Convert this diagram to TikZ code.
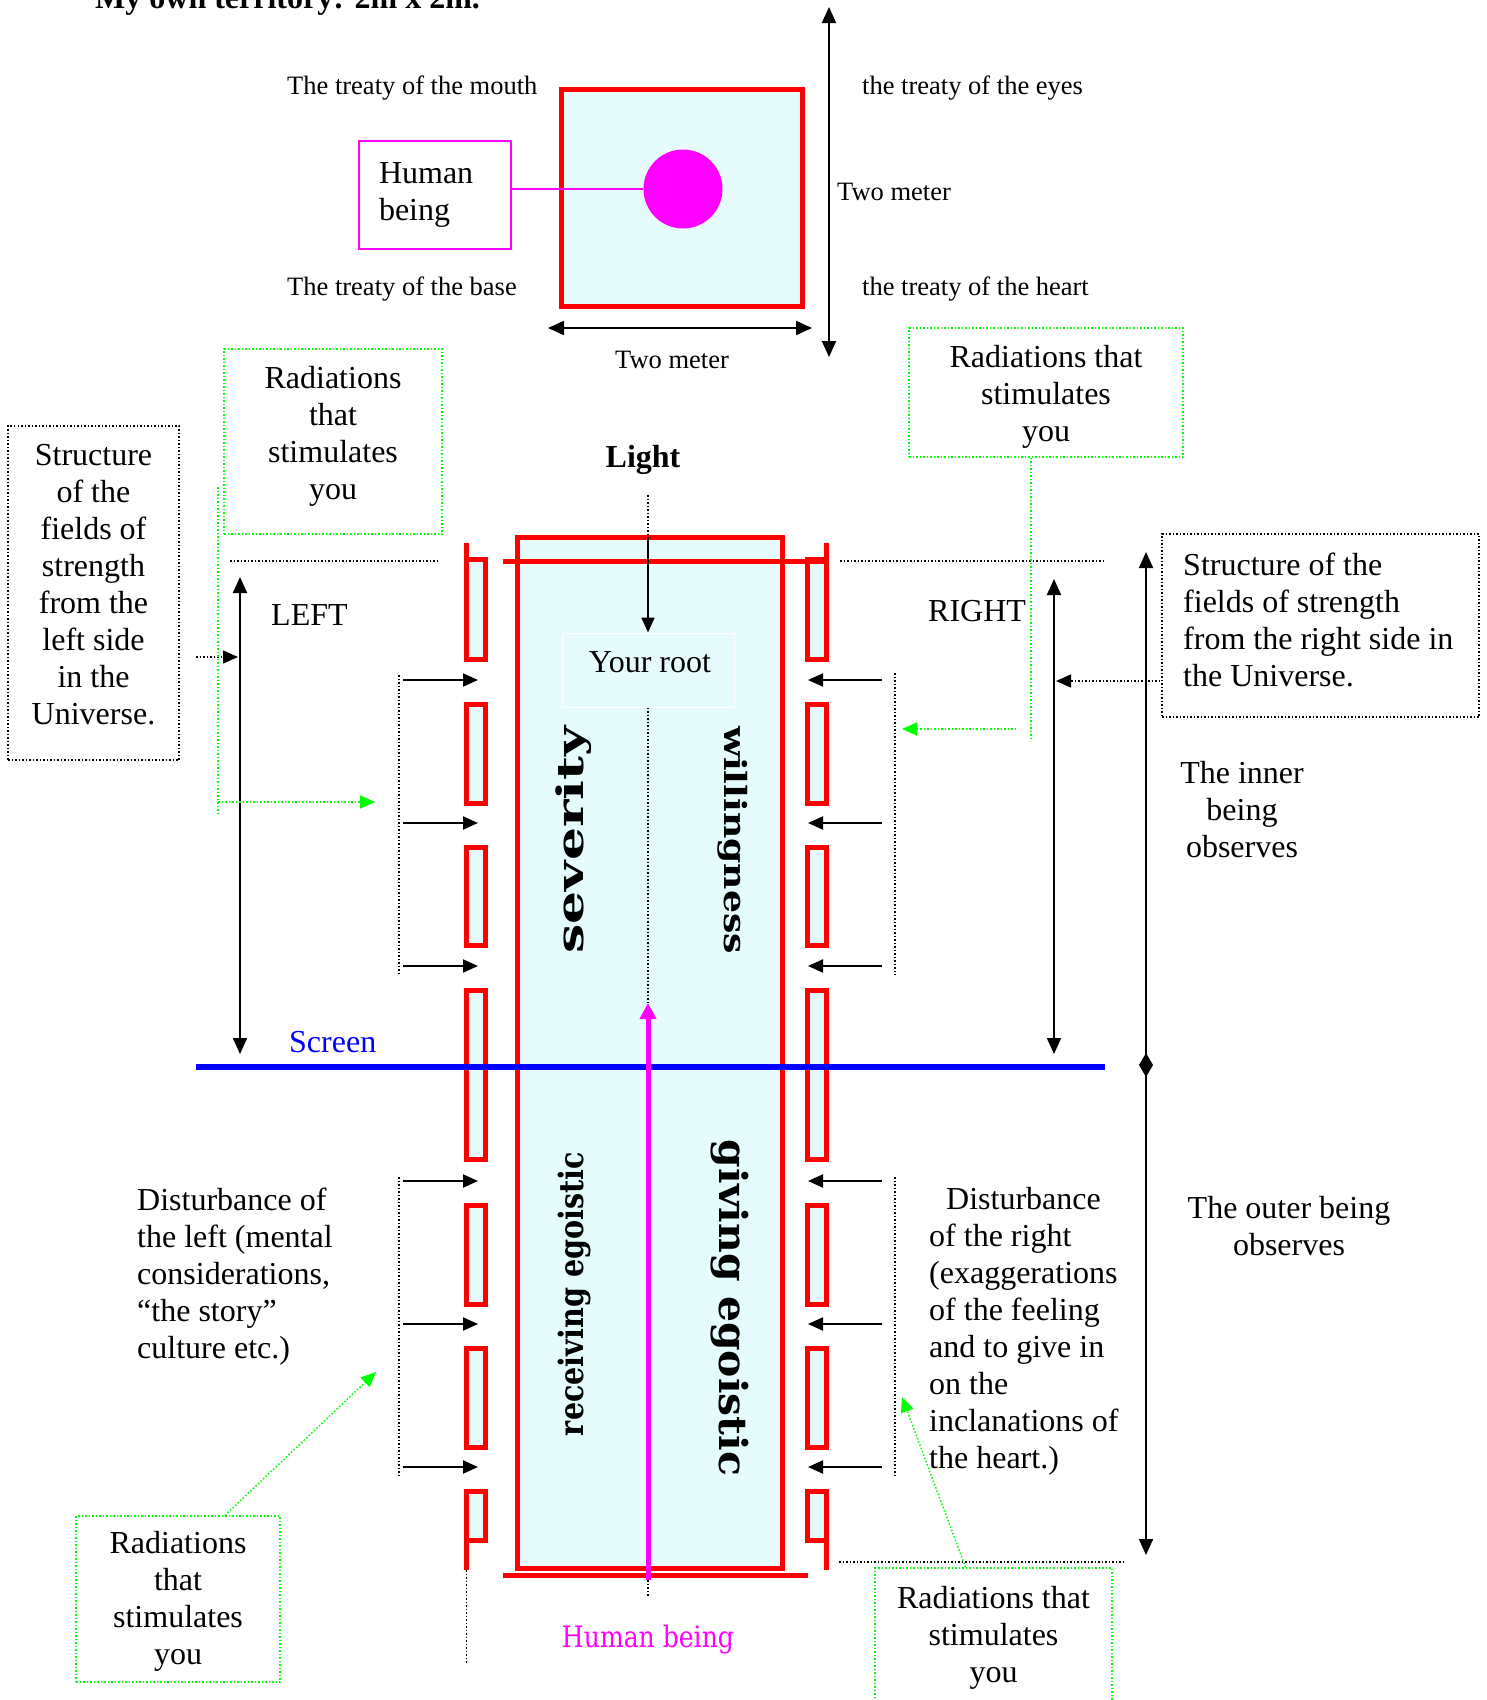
\documentclass[tikz,border=0pt]{standalone}
\usepackage{fontspec}
\usepackage{graphicx}
\usepackage{xcolor}
\setmainfont{Liberation Serif}
\newfontfamily\wideserif{DejaVu Serif}
\usetikzlibrary{arrows.meta}

\definecolor{wallred}{HTML}{FF0000}
\definecolor{beingpink}{HTML}{FF00FF}
\definecolor{screenblue}{HTML}{0000FF}
\definecolor{raygreen}{HTML}{00FF00}
\definecolor{rootcyan}{HTML}{E6FCFC}

\tikzset{
  bigtext/.style={font=\fontsize{32}{37}\selectfont, inner sep=0pt},
  smalltext/.style={font=\fontsize{26.5}{30}\selectfont, inner sep=0pt},
  wall/.style={draw=wallred, line width=5pt, fill=rootcyan},
  wallline/.style={draw=wallred, line width=5pt},
  push/.style={line width=2pt, -{Triangle[length=15pt,width=13pt]}},
  span/.style={line width=2pt, {Triangle[length=16pt,width=14pt]}-{Triangle[length=16pt,width=14pt]}},
  fieldline/.style={line width=1.5pt, dotted},
  rayline/.style={draw=raygreen, line width=1.5pt, dotted},
  ray/.style={rayline, -{Triangle[length=15pt,width=13pt]}},
  fieldbox/.style={draw, line width=1.5pt, dotted, inner sep=0pt},
  raybox/.style={draw=raygreen, line width=1.5pt, dotted, inner sep=0pt},
}

\begin{document}
\begin{tikzpicture}[x=1pt, y=-1pt]
  \useasboundingbox (0,0) rectangle (1486,1700);

  % Title, cut by the page edge
  \node[font=\fontsize{32}{37}\selectfont\bfseries, inner sep=0pt, anchor=base west] (title) at (95,8) {My own territory: 2m x 2m.};

  % Territory of two by two meter
  \node[wall, minimum width=241pt, minimum height=217pt, inner sep=0pt] (territory) at (682,198) {};
  \node[circle, fill=beingpink, minimum size=79pt, inner sep=0pt] (self) at (683,189) {};
  \node[bigtext, draw=beingpink, line width=2pt, minimum height=108pt, text width=112pt, inner xsep=20pt, align=left] (humanbox) at (435,195) {Human\\being};
  \draw[beingpink, line width=1.5pt] (humanbox.east |- self.west) -- (self.west);

  \node[smalltext, anchor=west] (mouth) at (287,88) {The treaty of the mouth};
  \node[smalltext, anchor=west] (base) at (287,289) {The treaty of the base};
  \node[smalltext, anchor=west] (eyes) at (862,88) {the treaty of the eyes};
  \node[smalltext, anchor=west] (heart) at (862,289) {the treaty of the heart};
  \node[smalltext, anchor=west] (heightlbl) at (837,192) {Two meter};
  \node[smalltext] (widthlbl) at (672,360) {Two meter};
  \draw[span] (829,7) -- (829,357);
  \draw[span] (548,328) -- (812,328);

  % The column of the human being
  \node[wall, minimum width=265pt, minimum height=1031pt, inner sep=0pt] (column) at (650,1053) {};

  % left wall segments
  \draw[wall] (466.5,559.5) rectangle (485.5,659.5);
  \draw[wall] (466.5,704.5) rectangle (485.5,803.5);
  \draw[wall] (466.5,847.5) rectangle (485.5,945.5);
  \draw[wall] (466.5,990.5) rectangle (485.5,1159.5);
  \draw[wall] (466.5,1205.5) rectangle (485.5,1304.5);
  \draw[wall] (466.5,1348.5) rectangle (485.5,1447.5);
  \draw[wall] (466.5,1491.5) rectangle (485.5,1540.5);
  % right wall segments
  \draw[wall] (807.5,559.5) rectangle (826.5,659.5);
  \draw[wall] (807.5,704.5) rectangle (826.5,803.5);
  \draw[wall] (807.5,847.5) rectangle (826.5,945.5);
  \draw[wall] (807.5,990.5) rectangle (826.5,1159.5);
  \draw[wall] (807.5,1205.5) rectangle (826.5,1304.5);
  \draw[wall] (807.5,1348.5) rectangle (826.5,1447.5);
  \draw[wall] (807.5,1491.5) rectangle (826.5,1540.5);

  \draw[wallline] (503,561.5) -- (827,561.5);
  \draw[wallline] (503,1575) -- (808,1575);
  \draw[wallline] (466.5,543) -- (466.5,560);
  \draw[wallline] (826.5,543) -- (826.5,560);
  \draw[wallline] (466.5,1540) -- (466.5,1570);
  \draw[wallline] (826.5,1540) -- (826.5,1570);
  \draw[fieldline] (466.5,1570) -- (466.5,1663);

  % Light down to the root
  \node[font=\fontsize{32}{37}\selectfont\bfseries, inner sep=0pt] (light) at (643,460) {Light};
  \node[draw=white, line width=1pt, fill=rootcyan, minimum width=172pt, minimum height=74pt, inner sep=0pt] (root) at (648,670) {};
  \node[bigtext] (rootlbl) at (650,662) {Your root};
  \draw[fieldline] (648,495) -- (648,537);
  \draw[push] (648,537) -- (root.north);
  \draw[fieldline] (root.south) -- (648,1005);

  % Screen
  \draw[screenblue, line width=6pt] (196,1067) -- (1105,1067);
  \node[bigtext, text=screenblue, anchor=west] (screen) at (289,1042) {Screen};

  % Human being rising
  \draw[beingpink, line width=5pt, -{Triangle[length=16pt,width=16pt]}] (648,1580) -- (648,1003);
  \draw[fieldline] (648,1580) -- (648,1597);
  \node[inner sep=0pt, text=beingpink] (human) at (648,1640) {\resizebox*{172pt}{29pt}{\wideserif Human being}};

  % Qualities in the column
  \node[rotate=90, inner sep=0pt] (severity) at (574,840) {\resizebox*{227pt}{36pt}{\wideserif\bfseries severity}};
  \node[rotate=-90, inner sep=0pt] (willingness) at (733,840) {\resizebox*{228pt}{30pt}{\wideserif\bfseries willingness}};
  \node[rotate=90, inner sep=0pt] (receiving) at (574,1294) {\resizebox*{284pt}{33pt}{\wideserif\bfseries receiving egoistic}};
  \node[rotate=-90, inner sep=0pt] (giving) at (730,1308) {\resizebox*{336pt}{38pt}{\wideserif\bfseries giving egoistic}};

  % Pressure from the left
  \draw[push] (403,680) -- (478,680);
  \draw[push] (403,823) -- (478,823);
  \draw[push] (403,966) -- (478,966);
  \draw[push] (403,1181) -- (478,1181);
  \draw[push] (403,1324) -- (478,1324);
  \draw[push] (403,1467) -- (478,1467);
  \draw[fieldline] (399,675) -- (399,976);
  \draw[fieldline] (399,1177) -- (399,1478);

  % Pressure from the right
  \draw[push] (882,680) -- (808,680);
  \draw[push] (882,823) -- (808,823);
  \draw[push] (882,966) -- (808,966);
  \draw[push] (882,1181) -- (808,1181);
  \draw[push] (882,1324) -- (808,1324);
  \draw[push] (882,1467) -- (808,1467);
  \draw[fieldline] (895,673) -- (895,975);
  \draw[fieldline] (895,1177) -- (895,1478);

  % Field limits
  \draw[fieldline] (230,561) -- (437,561);
  \draw[fieldline] (840,561) -- (1105,561);
  \draw[fieldline] (839,1562) -- (1123,1562);

  \draw[span] (240,577) -- (240,1054);
  \node[bigtext, anchor=west] (leftlbl) at (271,615) {LEFT};
  \draw[span] (1054,579) -- (1054,1054);
  \node[bigtext, anchor=west] (rightlbl) at (928,611) {RIGHT};
  \draw[span] (1146,552) -- (1146,1555);
  \fill (1146,1053) -- (1153,1065) -- (1146,1077) -- (1139,1065) -- cycle;

  % Structure of the fields
  \node[fieldbox, minimum width=171pt, minimum height=334pt] (fieldsleft) at (93.5,593) {};
  \node[bigtext, align=center] (fieldslefttxt) at (93.5,585) {Structure\\of the\\fields of\\strength\\from the\\left side\\in the\\Universe.};
  \node[fieldbox, minimum width=317pt, minimum height=183pt] (fieldsright) at (1320.5,625.5) {};
  \node[bigtext, align=left, anchor=west] (fieldsrighttxt) at (1183,620) {Structure of the\\fields of strength\\from the right side in\\the Universe.};
  \draw[fieldline, -{Triangle[length=15pt,width=13pt]}] (196,657) -- (238,657);
  \draw[fieldline, -{Triangle[length=15pt,width=13pt]}] (1160,681) -- (1056,681);

  % Radiations
  \node[raybox, minimum width=218pt, minimum height=185pt] (raysTL) at (333,441.5) {};
  \node[bigtext, align=center] (raysTLtxt) at (333,436) {Radiations\\that\\stimulates\\you};
  \node[raybox, minimum width=274pt, minimum height=129pt] (raysTR) at (1046,392.5) {};
  \node[bigtext, align=center] (raysTRtxt) at (1046,397) {Radiations that\\stimulates\\you};
  \node[raybox, minimum width=204pt, minimum height=166pt] (raysBL) at (178,1599) {};
  \node[bigtext, align=center] (raysBLtxt) at (178,1601) {Radiations\\that\\stimulates\\you};
  \node[raybox, minimum width=237pt, minimum height=136pt] (raysBR) at (993.5,1636) {};
  \node[bigtext, align=center] (raysBRtxt) at (993.5,1638) {Radiations that\\stimulates\\you};

  \draw[rayline] (218,487) -- (218,813);
  \draw[ray] (218,802) -- (375,802);
  \draw[rayline] ([xshift=-15pt]raysTR.south) -- (1031,739);
  \draw[ray] (1016,729) -- (902,729);
  \draw[ray] ([xshift=47pt]raysBL.north) -- (376,1372);
  \draw[ray] ([xshift=-28pt]raysBR.north) -- (902,1397);

  % Observers and disturbances
  \node[bigtext, align=center] (inner) at (1242,810) {The inner\\being\\observes};
  \node[bigtext, align=center] (outer) at (1289,1226) {The outer being\\observes};
  \node[bigtext, align=left, anchor=west] (disturbL) at (137,1277) {Disturbance of\\the left (mental\\considerations,\\“the story”\\culture etc.)};
  \node[bigtext, align=left, anchor=west] (disturbR) at (929,1331) {\hspace*{17pt}Disturbance\\of the right\\(exaggerations\\of the feeling\\and to give in\\on the\\inclanations of\\the heart.)};
\end{tikzpicture}
\end{document}
